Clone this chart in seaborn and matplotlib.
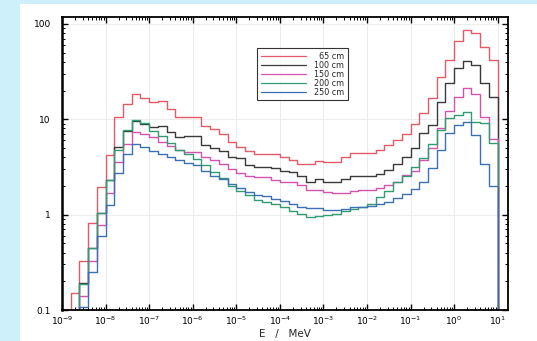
import numpy as np
import pandas as pd
import matplotlib
matplotlib.use('Agg')
import matplotlib.pyplot as plt
import matplotlib.ticker as mticker
from matplotlib.lines import Line2D
from matplotlib.patches import Rectangle
import seaborn as sns

# Espectre en energia, 5 bins per dècada entre 1e-9 i 1e1 MeV
bin_edges = 10.0 ** np.linspace(-9, 1, 51)

distancies = ['65 cm', '100 cm', '150 cm', '200 cm', '250 cm']
etiquetes = ['\u200765 cm', '100 cm', '150 cm', '200 cm', '250 cm']
colors = ['#e25b66', '#3a3a3a', '#d553ad', '#2f9c72', '#3c70b4']

flux_65 = [0, 0.15, 0.33, 0.82, 1.94, 4.25, 10.6, 14.6, 18.3, 16.9,
           15.0, 15.5, 12.7, 10.5, 10.6, 10.6, 8.5, 7.9, 7.0, 5.8,
           5.1, 4.6, 4.35, 4.35, 4.28, 4.01, 3.76, 3.42, 3.42, 3.61,
           3.55, 3.55, 4.0, 4.4, 4.4, 4.42, 4.72, 5.33, 6.1, 7.07,
           9.0, 11.6, 16.6, 28.0, 42.0, 66.0, 87.0, 80.0, 57.0, 42.0]
flux_100 = [0, 0, 0.19, 0.446, 1.05, 2.28, 5.1, 7.6, 9.6, 9.0,
            8.2, 8.4, 7.4, 6.5, 6.7, 6.6, 5.4, 5.0, 4.7, 4.0,
            3.9, 3.28, 3.15, 3.15, 3.05, 2.9, 2.8, 2.51, 2.19, 2.37,
            2.19, 2.19, 2.37, 2.51, 2.51, 2.51, 2.68, 2.95, 3.42, 4.01,
            4.95, 7.1, 8.7, 15.3, 23.9, 34.4, 40.4, 37.2, 23.9, 17.0]
flux_150 = [0, 0, 0.14, 0.33, 0.77, 1.68, 3.6, 5.55, 7.35, 7.0,
            6.5, 5.8, 5.2, 4.8, 4.5, 4.5, 4.0, 3.76, 3.42, 3.0,
            2.75, 2.57, 2.45, 2.45, 2.33, 2.19, 2.19, 2.02, 1.82, 1.8,
            1.72, 1.68, 1.7, 1.78, 1.8, 1.82, 1.88, 2.02, 2.19, 2.6,
            2.85, 3.73, 4.95, 8.0, 12.1, 17.3, 21.2, 18.5, 10.5, 6.2]
flux_200 = [0, 0, 0.187, 0.45, 1.05, 2.28, 4.8, 7.8, 9.7, 9.1,
            7.6, 6.6, 5.6, 4.8, 4.3, 3.8, 3.3, 2.8, 2.4, 2.0,
            1.75, 1.6, 1.42, 1.35, 1.3, 1.2, 1.1, 1.02, 0.95, 0.97,
            1.0, 1.02, 1.08, 1.15, 1.2, 1.3, 1.52, 1.79, 2.19, 2.57,
            3.15, 3.88, 5.45, 7.7, 10.2, 11.1, 11.8, 9.4, 9.2, 5.6]
flux_250 = [0, 0, 0.108, 0.25, 0.59, 1.27, 2.7, 4.3, 5.55, 5.1,
            4.7, 4.3, 4.0, 3.76, 3.5, 3.3, 2.9, 2.57, 2.37, 2.1,
            1.9, 1.72, 1.59, 1.55, 1.46, 1.4, 1.3, 1.2, 1.18, 1.18,
            1.12, 1.12, 1.15, 1.19, 1.19, 1.24, 1.3, 1.35, 1.5, 1.65,
            1.85, 2.2, 3.1, 4.75, 7.2, 8.7, 9.3, 6.8, 3.4, 2.0]

series = [flux_65, flux_100, flux_150, flux_200, flux_250]

# Taula llarga per a seaborn (els bins buits es porten sota l'eix)
files = []
for dist, vals in zip(distancies, series):
    ys = [v if v > 0 else 1e-3 for v in vals] + [1e-3]
    for e, y in zip(bin_edges, ys):
        files.append((dist, e, y))
df = pd.DataFrame(files, columns=['dist', 'E', 'flux'])

sns.set_style('ticks')
plt.rcParams['font.family'] = ['DejaVu Sans']

fig = plt.figure(figsize=(5.37, 3.41), dpi=100, facecolor='#cdf0fb')
fig.patches.append(Rectangle((20 / 537, 0), 1, 337 / 341, transform=fig.transFigure,
                             facecolor='white', edgecolor='none', zorder=-10))
ax = fig.add_axes([62 / 537, 31 / 341, 446 / 537, 293 / 341])
ax.set_zorder(5)
ax.set_facecolor('white')

sns.lineplot(data=df, x='E', y='flux', hue='dist', palette=colors,
             drawstyle='steps-post', estimator=None, sort=False,
             linewidth=1.0, legend=False, ax=ax)

ax.set_xscale('log')
ax.set_yscale('log')
ax.set_xlim(1e-9, 17.3)
ax.set_ylim(0.1, 118)

ax.xaxis.set_major_locator(mticker.LogLocator(base=10, numticks=20))
ax.xaxis.set_minor_locator(mticker.LogLocator(base=10, subs=np.arange(2, 10), numticks=20))
ax.yaxis.set_major_locator(mticker.FixedLocator([0.1, 1, 10, 100]))
ax.yaxis.set_major_formatter(mticker.FuncFormatter(lambda v, p: f'{v:g}'))
ax.yaxis.set_minor_locator(mticker.LogLocator(base=10, subs=np.arange(2, 10), numticks=20))
ax.yaxis.set_minor_formatter(mticker.NullFormatter())

ax.tick_params(which='both', direction='in', top=True, right=True, colors='black')
ax.tick_params(which='major', length=4, width=1, labelsize=6.5, pad=3)
ax.tick_params(axis='y', which='major', pad=8)
ax.tick_params(which='minor', length=2, width=0.7)
for s in ax.spines.values():
    s.set_linewidth(1.3)
    s.set_color('black')
ax.spines['left'].set_linewidth(1.8)

ax.grid(True, which='major', color='#ececec', linewidth=0.7)
ax.set_axisbelow(True)

ax.set_xlabel('E   /   MeV', fontsize=7.5, labelpad=2)
ax.set_ylabel('')

handles = [Line2D([0], [0], color=c, lw=0.9) for c in colors]
leg = ax.legend(handles, etiquetes, loc='upper left',
                bbox_to_anchor=(257 / 537, 1 - 48 / 341), bbox_transform=fig.transFigure,
                borderaxespad=0, fontsize=5.8, frameon=True, fancybox=False,
                edgecolor='black', handlelength=5.6, handletextpad=1.0,
                labelspacing=0.0, borderpad=0.45)
leg.get_frame().set_linewidth(0.8)

plt.savefig('out.png', dpi=100, facecolor=fig.get_facecolor())
